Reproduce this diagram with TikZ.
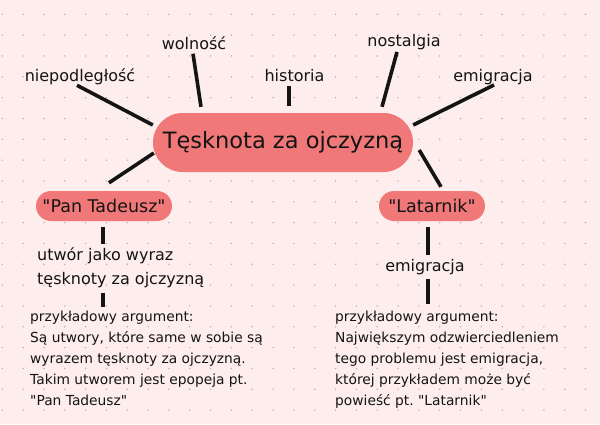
\documentclass[tikz,border=0pt]{standalone}
\usepackage{fontspec}
\setmainfont{DejaVu Sans}
\usetikzlibrary{calc}
\definecolor{bgpink}{HTML}{FDEDED}
\definecolor{boxred}{HTML}{F07272}
\definecolor{dotgray}{HTML}{B8AEAE}
\definecolor{ink}{HTML}{141414}
\frenchspacing
\begin{document}
\begin{tikzpicture}[x=1pt,y=-1pt,
  conn/.style={line width=3.6pt, draw=ink},
  pill/.style={fill=boxred, fill opacity=0.95, text opacity=1, rounded corners=#1, inner sep=0pt, text=ink},
  lbl/.style={inner sep=0pt, text=ink, font=\fontsize{16}{19}\selectfont},
  bodytxt/.style={inner sep=0pt, text=ink, align=left, anchor=north west, font=\fontsize{13.8}{21}\selectfont},
  midtxt/.style={inner sep=0pt, text=ink, align=left, anchor=north west, font=\fontsize{16}{24}\selectfont}]
\fill[bgpink] (0,0) rectangle (600,424);
\useasboundingbox (0,0) rectangle (600,424);
\foreach \i in {0,...,28} \foreach \j in {0,...,19} \fill[dotgray] (2.3+20.83*\i, 14.3+20.83*\j) circle (0.8);
% boxes
\node[pill=29.5pt, minimum width=260pt, minimum height=59pt, font=\fontsize{22.5}{26}\selectfont] (central) at (283,142.5) {Tęsknota za ojczyzną};
\node[pill=15pt, minimum width=136pt, minimum height=30pt, font=\fontsize{17.5}{20}\selectfont] (pan) at (104,206) {\textquotedbl Pan Tadeusz\textquotedbl};
\node[pill=15pt, minimum width=106pt, minimum height=30pt, font=\fontsize{17.5}{20}\selectfont] (lat) at (432,206) {\textquotedbl Latarnik\textquotedbl};
% labels
\node[lbl] (niep) at (80,77) {niepodległość};
\node[lbl] (woln) at (194,43) {wolność};
\node[lbl] (hist) at (294.5,76) {historia};
\node[lbl] (nost) at (404,42) {nostalgia};
\node[lbl] (emig) at (493,77) {emigracja};
\node[lbl] (emi2) at (425,267) {emigracja};
\node[midtxt] (utw) at (37,247) {utwór jako wyraz\\tęsknoty za ojczyzną};
\node[bodytxt] (argL) at (30,311) {przykładowy argument:\\Są utwory, które same w sobie są\\wyrazem tęsknoty za ojczyzną.\\Takim utworem jest epopeja pt.\\\textquotedbl Pan Tadeusz\textquotedbl};
\node[bodytxt] (argR) at (335,311) {przykładowy argument:\\Największym odzwierciedleniem\\tego problemu jest emigracja,\\której przykładem może być\\powieść pt.\ \textquotedbl Latarnik\textquotedbl};
% connectors
\draw[conn] ($(niep.south)+(-3,0)$) -- ($(central.west)+(0,-17.5)$);
\draw[conn] ($(woln.south)+(-1,4)$) -- ($(central.north)+(-82,-6)$);
\draw[conn] ($(central.north |- hist.south)+(6,4)$) -- ($(central.north)+(6,-7)$);
\draw[conn] ($(nost.south)+(-7,2)$) -- ($(central.north)+(99,-6)$);
\draw[conn] ($(emig.south)+(1,0)$) -- ($(central.east)+(0,-17.5)$);
\draw[conn] ($(central.west)+(1,10.5)$) -- ($(pan.north)+(5,-8)$);
\draw[conn] ($(central.east)+(6,7.5)$) -- ($(lat.north)+(9,-4)$);
\draw[conn] ($(pan.south)+(-1,6)$) -- ($(pan.south |- utw.north)+(-1,-3)$);
\draw[conn] ($(pan.south |- utw.south)+(-1,5)$) -- ($(pan.south |- argL.north)+(-1,-4)$);
\draw[conn] ($(lat.south)+(-4,6)$) -- ($(lat.south |- emi2.north)+(-4,-4)$);
\draw[conn] ($(lat.south |- emi2.south)+(-4,4)$) -- ($(lat.south |- argR.north)+(-4,-7)$);
\end{tikzpicture}
\end{document}
